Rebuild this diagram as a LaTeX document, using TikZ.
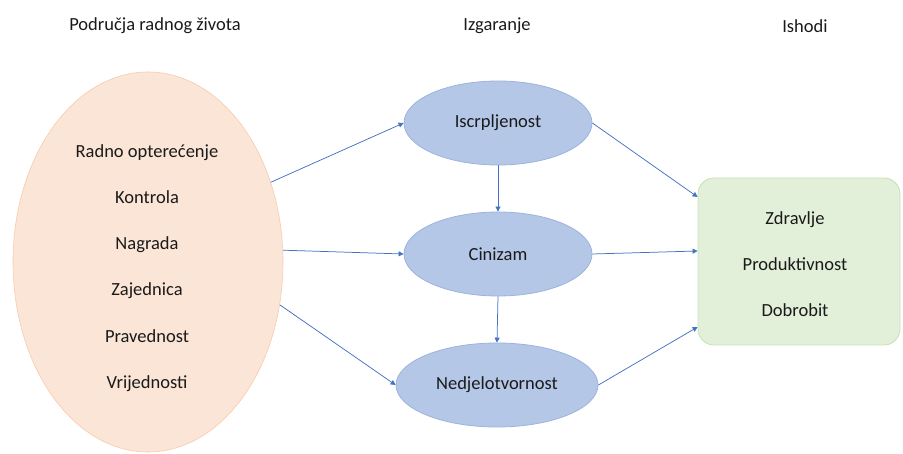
\documentclass[tikz,border=0pt]{standalone}
\usepackage{fontspec}
\setmainfont{Carlito}
\usetikzlibrary{shapes.geometric,arrows.meta,calc}
\definecolor{txt}{HTML}{1A1A1A}
\definecolor{orfill}{HTML}{FBE5D6}
\definecolor{ordraw}{HTML}{F8CBAD}
\definecolor{blfill}{HTML}{B4C7E7}
\definecolor{bldraw}{HTML}{9DB3DE}
\definecolor{grfill}{HTML}{E2F0D9}
\definecolor{grdraw}{HTML}{C5E0B4}
\definecolor{arr}{HTML}{4472C4}
\tikzset{
  titletext/.style={font=\fontsize{18.5}{22}\selectfont, text=txt, inner sep=0pt},
  listtext/.style={font=\fontsize{18.5}{46.3}\selectfont, text=txt, align=center, inner sep=0pt},
  areaell/.style={ellipse, fill=orfill, draw=ordraw, line width=0.6pt, minimum width=270pt, minimum height=380pt, inner sep=0pt},
  burnell/.style={ellipse, fill=blfill, draw=bldraw, line width=0.8pt, minimum height=84pt, inner sep=0pt, font=\fontsize{18.5}{22}\selectfont, text=txt},
  outbox/.style={rectangle, rounded corners=16pt, fill=grfill, draw=grdraw, line width=0.8pt, minimum width=202pt, minimum height=167pt, inner sep=0pt},
  linkarrow/.style={draw=arr, line width=0.75pt, -{Triangle[width=5pt,length=5pt]}}
}
\begin{document}
\begin{tikzpicture}[x=1pt,y=-1pt]
\useasboundingbox (0,0) rectangle (903,454);
% titles
\node[titletext] (t1) at (155,26) {Područja radnog života};
\node[titletext] (t2) at (497,26) {Izgaranje};
\node[titletext] (t3) at (805,26) {Ishodi};
% left ellipse
\node[areaell] (L) at (148,262) {};
\node[listtext] (Lt) at (147,268) {Radno opterećenje\\Kontrola\\Nagrada\\Zajednica\\Pravednost\\Vrijednosti};
% burnout ellipses
\node[burnell, minimum width=188pt] (I) at (498,123) {Iscrpljenost};
\node[burnell, minimum width=188pt] (C) at (498,254) {Cinizam};
\node[burnell, minimum width=202pt] (N) at (497,385) {Nedjelotvornost};
% outcomes
\node[outbox] (G) at (799,261.5) {};
\node[listtext] (Gt) at (795,264) {Zdravlje\\Produktivnost\\Dobrobit};
% connectors
\draw[linkarrow] (L.33) -- (I.west);
\draw[linkarrow] (L.5) -- (C.west);
\draw[linkarrow] (L.-18) -- (N.west);
\draw[linkarrow] (I.south) -- (C.north);
\draw[linkarrow] (C.south) -- (N.north);
\draw[linkarrow] (I.east) -- ($(G.west)+(0,-64.5)$);
\draw[linkarrow] (C.east) -- ($(G.west)+(0,-10.5)$);
\draw[linkarrow] (N.east) -- ($(G.west)+(0,65.5)$);
\end{tikzpicture}
\end{document}
